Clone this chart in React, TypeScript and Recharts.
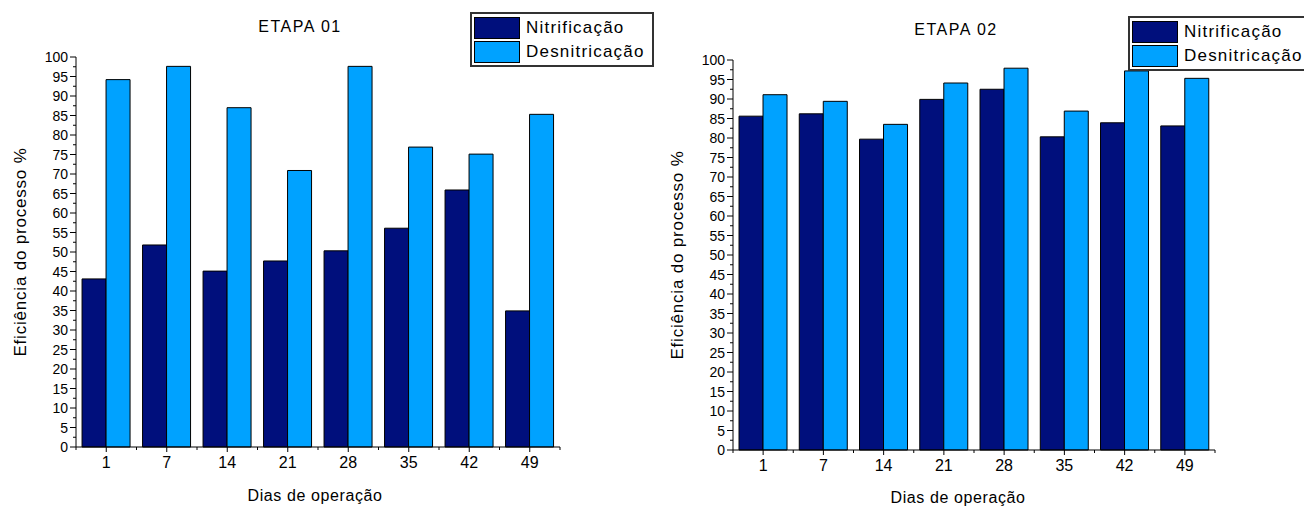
import React from 'react';
import { BarChart, Bar, XAxis, YAxis, Legend, Label } from 'recharts';

const days = ['1', '7', '14', '21', '28', '35', '42', '49'];

// ETAPA 01
const nitrif1 = [43.1, 51.8, 45.1, 47.7, 50.3, 56.1, 65.9, 34.9];
const desnit1 = [94.2, 97.6, 87.0, 70.9, 97.6, 76.9, 75.1, 85.3];

// ETAPA 02
const nitrif2 = [85.6, 86.2, 79.7, 89.9, 92.5, 80.3, 83.9, 83.1];
const desnit2 = [91.1, 89.4, 83.5, 94.1, 97.9, 86.9, 97.2, 95.3];

const yMajor = [0, 5, 10, 15, 20, 25, 30, 35, 40, 45, 50, 55, 60, 65, 70, 75, 80, 85, 90, 95, 100];
const yTicks = yMajor.flatMap((v, i) => (i < yMajor.length - 1 ? [v, (v + yMajor[i + 1]) / 2] : [v]));

const seriesOrder = ['n', 'd'];

const DARK = '#000f7c';
const LIGHT = '#00a2ff';
const FONT = '"Liberation Sans", Arial, sans-serif';

const Y_TICK_SIZE = 6;
const Y_TICK_MARGIN = 3;
const X_TICK_SIZE = 5;
const X_TICK_MARGIN = 4;

function YTick(props: any) {
  const { x, y, payload } = props;
  const v = payload.value;
  const axisX = x + Y_TICK_SIZE + Y_TICK_MARGIN;
  const major = v % 5 === 0;
  return (
    <g>
      <line x1={axisX - (major ? 6 : 3)} x2={axisX} y1={y} y2={y} stroke="#000" />
      {major && (
        <text x={axisX - 8} y={y} dy="0.36em" textAnchor="end" fontSize={14} fill="#000" fontFamily={FONT}>
          {v}
        </text>
      )}
    </g>
  );
}

function makeXTick(band: number) {
  return function XTick(props: any) {
    const { x, y, payload, index } = props;
    const axisY = y - X_TICK_SIZE - X_TICK_MARGIN;
    return (
      <g>
        <line x1={x} x2={x} y1={axisY} y2={axisY + 5} stroke="#000" />
        <line x1={x - band / 2} x2={x - band / 2} y1={axisY} y2={axisY + 3} stroke="#000" />
        {index === days.length - 1 && (
          <line x1={x + band / 2} x2={x + band / 2} y1={axisY} y2={axisY + 3} stroke="#000" />
        )}
        <text x={x} y={axisY + 9} dy="0.75em" textAnchor="middle" fontSize={16} fill="#000" fontFamily={FONT}>
          {payload.value}
        </text>
      </g>
    );
  };
}

function LegendBox(props: any) {
  const items = [...(props.payload || [])].sort(
    (a: any, b: any) => seriesOrder.indexOf(a.dataKey) - seriesOrder.indexOf(b.dataKey)
  );
  return (
    <div
      style={{
        border: '2px solid #333',
        background: '#fff',
        padding: '2px 2px 1px 2px',
        width: 176,
        boxSizing: 'content-box',
        whiteSpace: 'nowrap',
      }}
    >
      {items.map((p: any) => (
        <div key={p.value} style={{ display: 'flex', alignItems: 'center', height: 24 }}>
          <div
            style={{
              width: 44,
              height: 20,
              background: p.color,
              border: '1.5px solid #000',
              marginRight: 6,
            }}
          />
          <span style={{ fontFamily: FONT, fontSize: 17, letterSpacing: 1.2, color: '#000' }}>{p.value}</span>
        </div>
      ))}
    </div>
  );
}

interface PanelProps {
  title: string;
  nitrif: number[];
  desnit: number[];
  left: number;
  width: number;
  plotLeft: number;
  plotRight: number;
  plotTop: number;
  plotBottom: number;
  titleX: number;
  titleY: number;
  yLabelX: number;
  xLabelX: number;
  xLabelY: number;
  legendLeft: number;
  legendTop: number;
}

function Panel(p: PanelProps) {
  const data = days.map((d, i) => ({ dia: d, n: p.nitrif[i], d: p.desnit[i] }));
  const band = (p.plotRight - p.plotLeft) / days.length;
  const yAxisWidth = 40;
  const xAxisHeight = 30;
  const midY = (p.plotTop + p.plotBottom) / 2;

  return (
    <div style={{ position: 'absolute', left: p.left, top: 0, width: p.width, height: 510 }}>
      <div
        style={{
          position: 'absolute',
          left: p.titleX - 70,
          top: p.titleY - 10,
          width: 140,
          textAlign: 'center',
          fontFamily: FONT,
          fontSize: 16,
          letterSpacing: 1.5,
          lineHeight: '20px',
          color: '#000',
        }}
      >
        {p.title}
      </div>
      <BarChart
        width={p.width}
        height={510}
        data={data}
        barCategoryGap="10%"
        barGap={0}
        margin={{
          left: p.plotLeft - yAxisWidth,
          right: p.width - p.plotRight,
          top: p.plotTop,
          bottom: 510 - p.plotBottom - xAxisHeight,
        }}
      >
        <XAxis
          dataKey="dia"
          height={xAxisHeight}
          tickLine={false}
          tickSize={X_TICK_SIZE}
          tickMargin={X_TICK_MARGIN}
          interval={0}
          axisLine={{ stroke: '#000' }}
          tick={makeXTick(band)}
        >
          <Label
            content={() => (
              <text
                x={p.xLabelX}
                y={p.xLabelY}
                dy="0.35em"
                textAnchor="middle"
                fontSize={16}
                letterSpacing={0.6}
                fontFamily={FONT}
                fill="#000"
              >
                Dias de operação
              </text>
            )}
          />
        </XAxis>
        <YAxis
          type="number"
          domain={[0, 100]}
          ticks={yTicks}
          interval={0}
          width={yAxisWidth}
          tickLine={false}
          tickSize={Y_TICK_SIZE}
          tickMargin={Y_TICK_MARGIN}
          axisLine={{ stroke: '#000' }}
          tick={YTick}
        >
          <Label
            content={() => (
              <text
                x={p.yLabelX}
                y={midY}
                transform={`rotate(-90 ${p.yLabelX} ${midY})`}
                dominantBaseline="central"
                textAnchor="middle"
                fontSize={17}
                letterSpacing={0.8}
                fontFamily={FONT}
                fill="#000"
              >
                Eficiência do processo %
              </text>
            )}
          />
        </YAxis>
        <Legend
          layout="vertical"
          align="center"
          verticalAlign="middle"
          content={LegendBox}
          wrapperStyle={{ left: p.legendLeft, top: p.legendTop, width: 'auto', height: 'auto' }}
        />
        <Bar dataKey="n" name="Nitrificação" fill={DARK} stroke="#000" strokeWidth={1} isAnimationActive={false} />
        <Bar dataKey="d" name="Desnitricação" fill={LIGHT} stroke="#000" strokeWidth={1} isAnimationActive={false} />
      </BarChart>
    </div>
  );
}

export default function App() {
  return (
    <div
      style={{
        position: 'absolute',
        left: 0,
        top: 0,
        width: 1304,
        height: 510,
        overflow: 'hidden',
        background: '#fff',
        fontFamily: FONT,
      }}
    >
      <Panel
        title="ETAPA 01"
        nitrif={nitrif1}
        desnit={desnit1}
        left={0}
        width={650}
        plotLeft={76}
        plotRight={560}
        plotTop={57}
        plotBottom={447}
        titleX={300}
        titleY={27}
        yLabelX={20}
        xLabelX={315}
        xLabelY={495}
        legendLeft={470}
        legendTop={12}
      />
      <Panel
        title="ETAPA 02"
        nitrif={nitrif2}
        desnit={desnit2}
        left={650}
        width={654}
        plotLeft={83}
        plotRight={565}
        plotTop={60}
        plotBottom={450}
        titleX={306}
        titleY={30}
        yLabelX={27}
        xLabelX={308}
        xLabelY={497}
        legendLeft={478}
        legendTop={16}
      />
    </div>
  );
}
